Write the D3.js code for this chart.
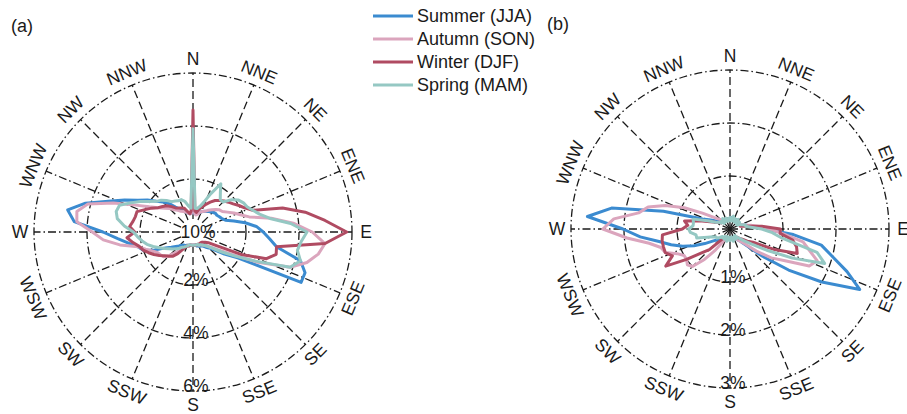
<!DOCTYPE html>
<html>
<head>
<meta charset="utf-8">
<script src="https://cdn.jsdelivr.net/npm/d3@7"></script>
<style>
  body { margin: 0; background: #fff; }
  svg { font-family: "Liberation Sans", Arial, sans-serif; }
</style>
</head>
<body>
<div id="chart"></div>
<script>
// wind direction bins (degrees clockwise from north)
const bearings = d3.range(0, 360, 5);
const compassLabels = ['N', 'NNE', 'NE', 'ENE', 'E', 'ESE', 'SE', 'SSE',
    'S', 'SSW', 'SW', 'WSW', 'W', 'WNW', 'NW', 'NNW'];
const seasons = ['Summer (JJA)', 'Autumn (SON)', 'Winter (DJF)', 'Spring (MAM)'];
const seasonColors = ['#3b8bd0', '#dba5bd', '#b04b62', '#95c8c3'];

// panel (a): frequency in %
const ringTicksA = [2, 4, 6];
const ringLabelsA = ['2%', '4%', '6%'];
const centerLabelA = '10%';
const summerA = [
    0.9, 0.7, 0.7, 0.75, 0.8, 0.85, 0.9, 0.95, 1.0, 1.05, 1.1, 1.1,
    1.15, 1.2, 1.3, 1.6, 2.0, 2.4, 2.65, 2.9, 3.2, 4.2, 4.5, 4.5,
    1.95, 1.45, 1.05, 0.85, 0.75, 0.65, 0.6, 0.6, 0.55, 0.55, 0.5, 0.5,
    0.5, 0.5, 0.5, 0.5, 0.55, 0.55, 0.6, 0.6, 0.65, 0.75, 0.85, 1.0,
    1.2, 1.6, 2.0, 2.15, 2.45, 2.85, 3.4, 4.5, 4.8, 4.2, 3.4, 2.85,
    2.4, 2.1, 1.8, 1.6, 1.4, 1.15, 1.0, 0.9, 0.8, 0.75, 0.7, 0.7
];
const autumnA = [
    2.7, 0.7, 0.65, 0.7, 0.8, 0.85, 0.9, 1.0, 1.1, 1.2, 1.3, 1.35,
    1.5, 1.7, 1.9, 2.2, 3.0, 3.8, 4.5, 5.0, 4.8, 4.45, 3.9, 2.7,
    1.7, 1.2, 0.9, 0.75, 0.65, 0.6, 0.55, 0.55, 0.5, 0.5, 0.5, 0.5,
    0.5, 0.5, 0.5, 0.5, 0.55, 0.6, 0.7, 0.85, 1.0, 1.25, 1.45, 1.5,
    1.55, 1.7, 1.9, 2.15, 2.8, 3.4, 3.8, 4.4, 4.45, 4.1, 3.2, 2.4,
    1.9, 1.6, 1.4, 1.25, 1.1, 1.0, 0.9, 0.85, 0.8, 0.75, 0.7, 0.7
];
const winterA = [
    4.6, 0.8, 0.75, 0.9, 1.0, 1.15, 1.3, 1.45, 1.55, 1.65, 1.75, 1.85,
    2.0, 2.15, 2.4, 3.5, 4.3, 5.0, 5.8, 5.0, 3.2, 3.25, 2.95, 2.0,
    1.05, 0.7, 0.6, 0.55, 0.5, 0.5, 0.5, 0.5, 0.5, 0.5, 0.5, 0.5,
    0.5, 0.5, 0.5, 0.55, 0.55, 0.6, 0.75, 1.0, 1.2, 1.3, 1.4, 1.55,
    1.7, 1.85, 2.0, 2.1, 2.3, 2.5, 2.2, 2.4, 2.3, 2.25, 2.25, 2.0,
    1.8, 1.6, 1.5, 1.4, 1.25, 1.1, 1.05, 1.0, 0.95, 0.8, 0.7, 0.8
];
const springA = [
    3.9, 0.9, 0.9, 1.0, 1.2, 1.6, 2.1, 1.8, 1.6, 1.6, 1.9, 2.1,
    2.2, 2.25, 2.4, 2.6, 2.95, 3.7, 4.3, 4.1, 4.0, 4.2, 3.9, 2.6,
    1.8, 1.3, 0.95, 0.75, 0.65, 0.6, 0.55, 0.55, 0.5, 0.5, 0.5, 0.5,
    0.5, 0.5, 0.5, 0.5, 0.55, 0.6, 0.65, 0.7, 0.8, 0.9, 1.0, 1.1,
    1.25, 1.4, 1.6, 1.8, 1.95, 2.1, 2.25, 2.6, 2.9, 3.0, 2.95, 2.6,
    2.3, 2.0, 1.8, 1.7, 1.55, 1.4, 1.35, 1.3, 1.3, 1.2, 1.0, 0.9
];

// panel (b): frequency in %
const ringTicksB = [1, 2, 3];
const ringLabelsB = ['1%', '2%', '3%'];
const summerB = [
    0.2, 0.2, 0.22, 0.2, 0.2, 0.2, 0.2, 0.22, 0.2, 0.2, 0.2, 0.2,
    0.2, 0.2, 0.25, 0.3, 0.35, 0.45, 0.65, 1.2, 1.75, 2.0, 2.35, 2.7,
    2.0, 1.35, 0.8, 0.45, 0.3, 0.25, 0.2, 0.2, 0.2, 0.2, 0.2, 0.2,
    0.2, 0.2, 0.2, 0.2, 0.2, 0.2, 0.2, 0.25, 0.25, 0.3, 0.32, 0.4,
    0.55, 0.75, 0.95, 1.15, 1.36, 1.7, 2.02, 2.7, 2.27, 1.3, 0.55, 0.4,
    0.3, 0.25, 0.2, 0.2, 0.2, 0.2, 0.2, 0.2, 0.2, 0.2, 0.2, 0.2
];
const autumnB = [
    0.2, 0.2, 0.2, 0.2, 0.2, 0.2, 0.2, 0.2, 0.2, 0.2, 0.2, 0.2,
    0.2, 0.2, 0.25, 0.3, 0.4, 0.55, 0.75, 1.0, 1.4, 1.55, 1.75, 1.65,
    1.2, 0.95, 0.65, 0.4, 0.3, 0.25, 0.2, 0.2, 0.2, 0.2, 0.2, 0.2,
    0.2, 0.2, 0.2, 0.2, 0.2, 0.2, 0.3, 0.5, 0.75, 1.0, 1.05, 1.0,
    1.0, 1.1, 1.3, 1.35, 1.55, 1.95, 2.4, 2.2, 1.75, 1.6, 1.3, 0.95,
    0.6, 0.4, 0.3, 0.25, 0.2, 0.2, 0.2, 0.2, 0.2, 0.2, 0.2, 0.2
];
const winterB = [
    0.2, 0.2, 0.2, 0.2, 0.2, 0.2, 0.2, 0.2, 0.2, 0.2, 0.2, 0.2,
    0.2, 0.2, 0.2, 0.2, 0.3, 0.6, 0.95, 0.95, 1.2, 1.3, 1.35, 0.9,
    0.5, 0.4, 0.3, 0.25, 0.2, 0.2, 0.2, 0.2, 0.2, 0.2, 0.2, 0.2,
    0.2, 0.2, 0.2, 0.2, 0.2, 0.2, 0.2, 0.2, 0.3, 0.55, 0.7, 1.0,
    1.4, 1.2, 1.3, 1.3, 1.3, 1.28, 0.9, 0.8, 0.87, 0.6, 0.4, 0.3,
    0.25, 0.2, 0.2, 0.2, 0.2, 0.2, 0.2, 0.2, 0.2, 0.2, 0.2, 0.2
];
const springB = [
    0.22, 0.15, 0.2, 0.25, 0.17, 0.22, 0.15, 0.2, 0.24, 0.16, 0.2, 0.22,
    0.15, 0.2, 0.24, 0.3, 0.3, 0.4, 0.6, 0.8, 1.0, 1.7, 1.9, 1.3,
    0.8, 0.5, 0.35, 0.25, 0.2, 0.15, 0.22, 0.17, 0.2, 0.24, 0.15, 0.2,
    0.22, 0.16, 0.2, 0.24, 0.15, 0.2, 0.22, 0.17, 0.22, 0.2, 0.25, 0.3,
    0.3, 0.35, 0.45, 0.65, 0.65, 0.75, 0.78, 0.7, 0.7, 0.72, 0.45, 0.3,
    0.25, 0.2, 0.22, 0.15, 0.2, 0.24, 0.16, 0.2, 0.22, 0.15, 0.2, 0.2
];

const width = 907, height = 414;
const R = 159;
const ink = '#1a1a1a';

const svg = d3.select('#chart').append('svg')
    .attr('width', width)
    .attr('height', height);

const angle = d3.scaleLinear().domain([0, 360]).range([0, 2 * Math.PI]);

function drawRose(opt) {
    const g = svg.append('g').attr('transform', `translate(${opt.cx},${opt.cy})`);
    const r = d3.scaleLinear().domain([0, opt.maxVal]).range([0, R]);

    // rings (dash-dot)
    g.selectAll('circle.ring')
        .data(opt.rings)
        .enter().append('circle')
        .attr('class', 'ring')
        .attr('r', d => r(d))
        .attr('fill', 'none')
        .attr('stroke', ink)
        .attr('stroke-width', 1.3)
        .attr('stroke-dasharray', '8,3,1.5,3');

    // spokes: dash-dot near the E-W axis, dashed elsewhere
    g.selectAll('line.spoke')
        .data(compassLabels.map((d, i) => i * 22.5))
        .enter().append('line')
        .attr('class', 'spoke')
        .attr('x1', d => opt.spokeStart * Math.sin(angle(d)))
        .attr('y1', d => -opt.spokeStart * Math.cos(angle(d)))
        .attr('x2', d => R * Math.sin(angle(d)))
        .attr('y2', d => -R * Math.cos(angle(d)))
        .attr('stroke', ink)
        .attr('stroke-width', 1.3)
        .attr('stroke-dasharray', d => Math.abs(Math.sin(angle(d))) > 0.9 ? '8,3,1.5,3' : '8,4');

    // compass labels
    const labR = 173;
    g.selectAll('text.dir')
        .data(compassLabels)
        .enter().append('text')
        .attr('class', 'dir')
        .attr('text-anchor', 'middle')
        .attr('dominant-baseline', 'central')
        .attr('font-size', 17.5)
        .attr('fill', ink)
        .attr('transform', (d, i) => {
            const b = i * 22.5;
            const x = labR * Math.sin(angle(b));
            const y = -labR * Math.cos(angle(b));
            let rot = 0;
            if (i % 4 !== 0) rot = b < 90 ? b : (b > 270 ? b - 360 : b - 180);
            return `translate(${x},${y}) rotate(${rot})`;
        })
        .text(d => d);

    // series
    const line = d3.lineRadial()
        .angle(d => angle(d[0]))
        .radius(d => r(d[1]))
        .curve(d3.curveLinearClosed);

    opt.series.forEach((vals, k) => {
        g.append('path')
            .datum(bearings.map((b, j) => [b, vals[j]]))
            .attr('d', line)
            .attr('fill', 'none')
            .attr('stroke', seasonColors[k])
            .attr('stroke-width', 3)
            .attr('stroke-linejoin', 'round');
    });

    // ring labels
    g.selectAll('text.ringlab')
        .data(opt.rings)
        .enter().append('text')
        .attr('class', 'ringlab')
        .attr('x', 3)
        .attr('y', d => r(d) - 5)
        .attr('text-anchor', 'middle')
        .attr('dominant-baseline', 'central')
        .attr('font-size', 17.5)
        .attr('fill', ink)
        .text((d, i) => opt.ringLabels[i]);

    if (opt.centerLabel) {
        g.append('text')
            .attr('x', 5)
            .attr('y', 0)
            .attr('text-anchor', 'middle')
            .attr('dominant-baseline', 'central')
            .attr('font-size', 17.5)
            .attr('fill', ink)
            .text(opt.centerLabel);
    }

    svg.append('text')
        .attr('x', opt.tagX)
        .attr('y', opt.tagY)
        .attr('font-size', 18)
        .attr('fill', ink)
        .text(opt.tag);
}

drawRose({
    cx: 193, cy: 232, maxVal: 6,
    rings: ringTicksA, ringLabels: ringLabelsA, centerLabel: centerLabelA,
    series: [summerA, autumnA, winterA, springA],
    spokeStart: 13, tag: '(a)', tagX: 11, tagY: 32
});

drawRose({
    cx: 730, cy: 229, maxVal: 3,
    rings: ringTicksB, ringLabels: ringLabelsB, centerLabel: null,
    series: [summerB, autumnB, winterB, springB],
    spokeStart: 0, tag: '(b)', tagX: 547, tagY: 30
});

// legend
const legend = svg.append('g').attr('transform', 'translate(373,16)');
const rows = legend.selectAll('g')
    .data(seasons)
    .enter().append('g')
    .attr('transform', (d, i) => `translate(0,${i * 23})`);
rows.append('line')
    .attr('x1', 0).attr('x2', 40)
    .attr('stroke', (d, i) => seasonColors[i])
    .attr('stroke-width', 3);
rows.append('text')
    .attr('x', 44)
    .attr('dominant-baseline', 'central')
    .attr('font-size', 18)
    .attr('fill', ink)
    .text(d => d);
</script>
</body>
</html>
